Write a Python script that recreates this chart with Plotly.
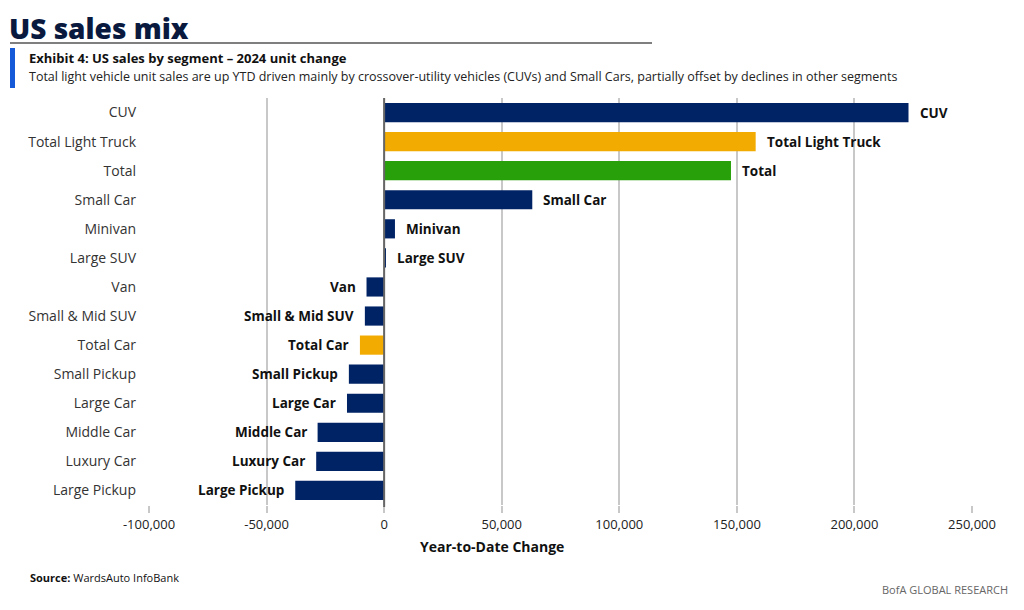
import plotly.graph_objects as go

segments = ["CUV", "Total Light Truck", "Total", "Small Car", "Minivan", "Large SUV",
            "Van", "Small & Mid SUV", "Total Car", "Small Pickup", "Large Car",
            "Middle Car", "Luxury Car", "Large Pickup"]
ytd_change = [223000, 158000, 147500, 63000, 4600, 700,
              -7500, -8200, -10300, -15000, -15800, -28300, -28900, -37800]
bar_colors = ["#002366", "#f2ab00", "#27a00a", "#002366", "#002366", "#002366",
              "#002366", "#002366", "#f2ab00", "#002366", "#002366",
              "#002366", "#002366", "#002366"]
x_ticks = [-100000, -50000, 0, 50000, 100000, 150000, 200000, 250000]
x_tick_text = ["-100,000", "-50,000", "0", "50,000", "100,000", "150,000", "200,000", "250,000"]

FONT = "Open Sans, Roboto, sans-serif"
W, H = 1024, 610
OFF = 8  # page body offset
L, R, T, B = 149, 972, 98, 505  # target plot box in screen pixels

def px(x):
    return (x - L) / (R - L)

def py(y):
    return (B - y) / (B - T)

fig = go.Figure()
fig.add_trace(go.Bar(
    y=segments, x=ytd_change, orientation="h",
    marker=dict(color=bar_colors, line=dict(width=0)),
    width=0.66, hoverinfo="x+y",
))

annotations = []
for s, v in zip(segments, ytd_change):
    annotations.append(dict(
        x=v, y=s, xref="x", yref="y", text="<b>%s</b>" % s, showarrow=False,
        xanchor="left" if v >= 0 else "right", xshift=9 if v >= 0 else -9,
        font=dict(family=FONT, size=13.5, color="#111111"),
    ))

annotations += [
    dict(x=px(8), y=py(28), xref="paper", yref="paper", text="US sales mix",
         showarrow=False, xanchor="left", yanchor="middle", borderpad=0,
         font=dict(family=FONT, size=28, color="#0a1a3f", weight=800)),
    dict(x=px(27), y=py(58), xref="paper", yref="paper",
         text="<b>Exhibit 4: US sales by segment – 2024 unit change</b>",
         showarrow=False, xanchor="left", yanchor="middle",
         font=dict(family=FONT, size=13, color="#111111")),
    dict(x=px(27), y=py(76), xref="paper", yref="paper",
         text="Total light vehicle unit sales are up YTD driven mainly by crossover-utility vehicles (CUVs) and Small Cars, partially offset by declines in other segments",
         showarrow=False, xanchor="left", yanchor="middle",
         font=dict(family=FONT, size=12.5, color="#222222")),
    dict(x=px(492), y=py(546), xref="paper", yref="paper", text="<b>Year-to-Date Change</b>",
         showarrow=False, xanchor="center", yanchor="middle",
         font=dict(family=FONT, size=14, color="#111111")),
    dict(x=px(28), y=py(577), xref="paper", yref="paper",
         text="<b>Source:</b> WardsAuto InfoBank",
         showarrow=False, xanchor="left", yanchor="middle",
         font=dict(family=FONT, size=11, color="#111111")),
    dict(x=px(1010), y=py(589), xref="paper", yref="paper",
         text="BofA GLOBAL RESEARCH",
         showarrow=False, xanchor="right", yanchor="middle",
         font=dict(family=FONT, size=11, color="#666666")),
]

shapes = [
    dict(type="line", xref="paper", yref="paper", x0=px(10), x1=px(652), y0=py(43), y1=py(43),
         line=dict(color="#555555", width=1.5)),
    dict(type="rect", xref="paper", yref="paper", x0=px(10), x1=px(15), y0=py(88), y1=py(48),
         fillcolor="#1659d8", line=dict(width=0)),
    dict(type="line", xref="x", yref="paper", x0=0, x1=0, y0=py(T), y1=py(B + 2),
         line=dict(color="#666666", width=2), layer="above"),
]

fig.update_layout(
    width=W, height=H,
    margin=dict(l=L - OFF, r=W - (R - OFF), t=T - OFF, b=H - (B - OFF)),
    paper_bgcolor="white", plot_bgcolor="white",
    showlegend=False, bargap=0.34,
    font=dict(family=FONT, size=14, color="#222222"),
    annotations=annotations, shapes=shapes,
    xaxis=dict(range=[-100000, 250000], tickvals=x_ticks, ticktext=x_tick_text,
               showgrid=True, gridcolor="#c8c8c8", gridwidth=2, zeroline=False,
               ticks="outside", ticklen=7, tickcolor="#c8c8c8", tickwidth=2,
               tickfont=dict(family=FONT, size=13, color="#222222"), showline=False),
    yaxis=dict(categoryorder="array", categoryarray=segments[::-1],
               showgrid=False, zeroline=False, showline=False, ticks="",
               ticklabelstandoff=12,
               tickfont=dict(family=FONT, size=14, color="#333333")),
)

fig.write_html("out.html")
